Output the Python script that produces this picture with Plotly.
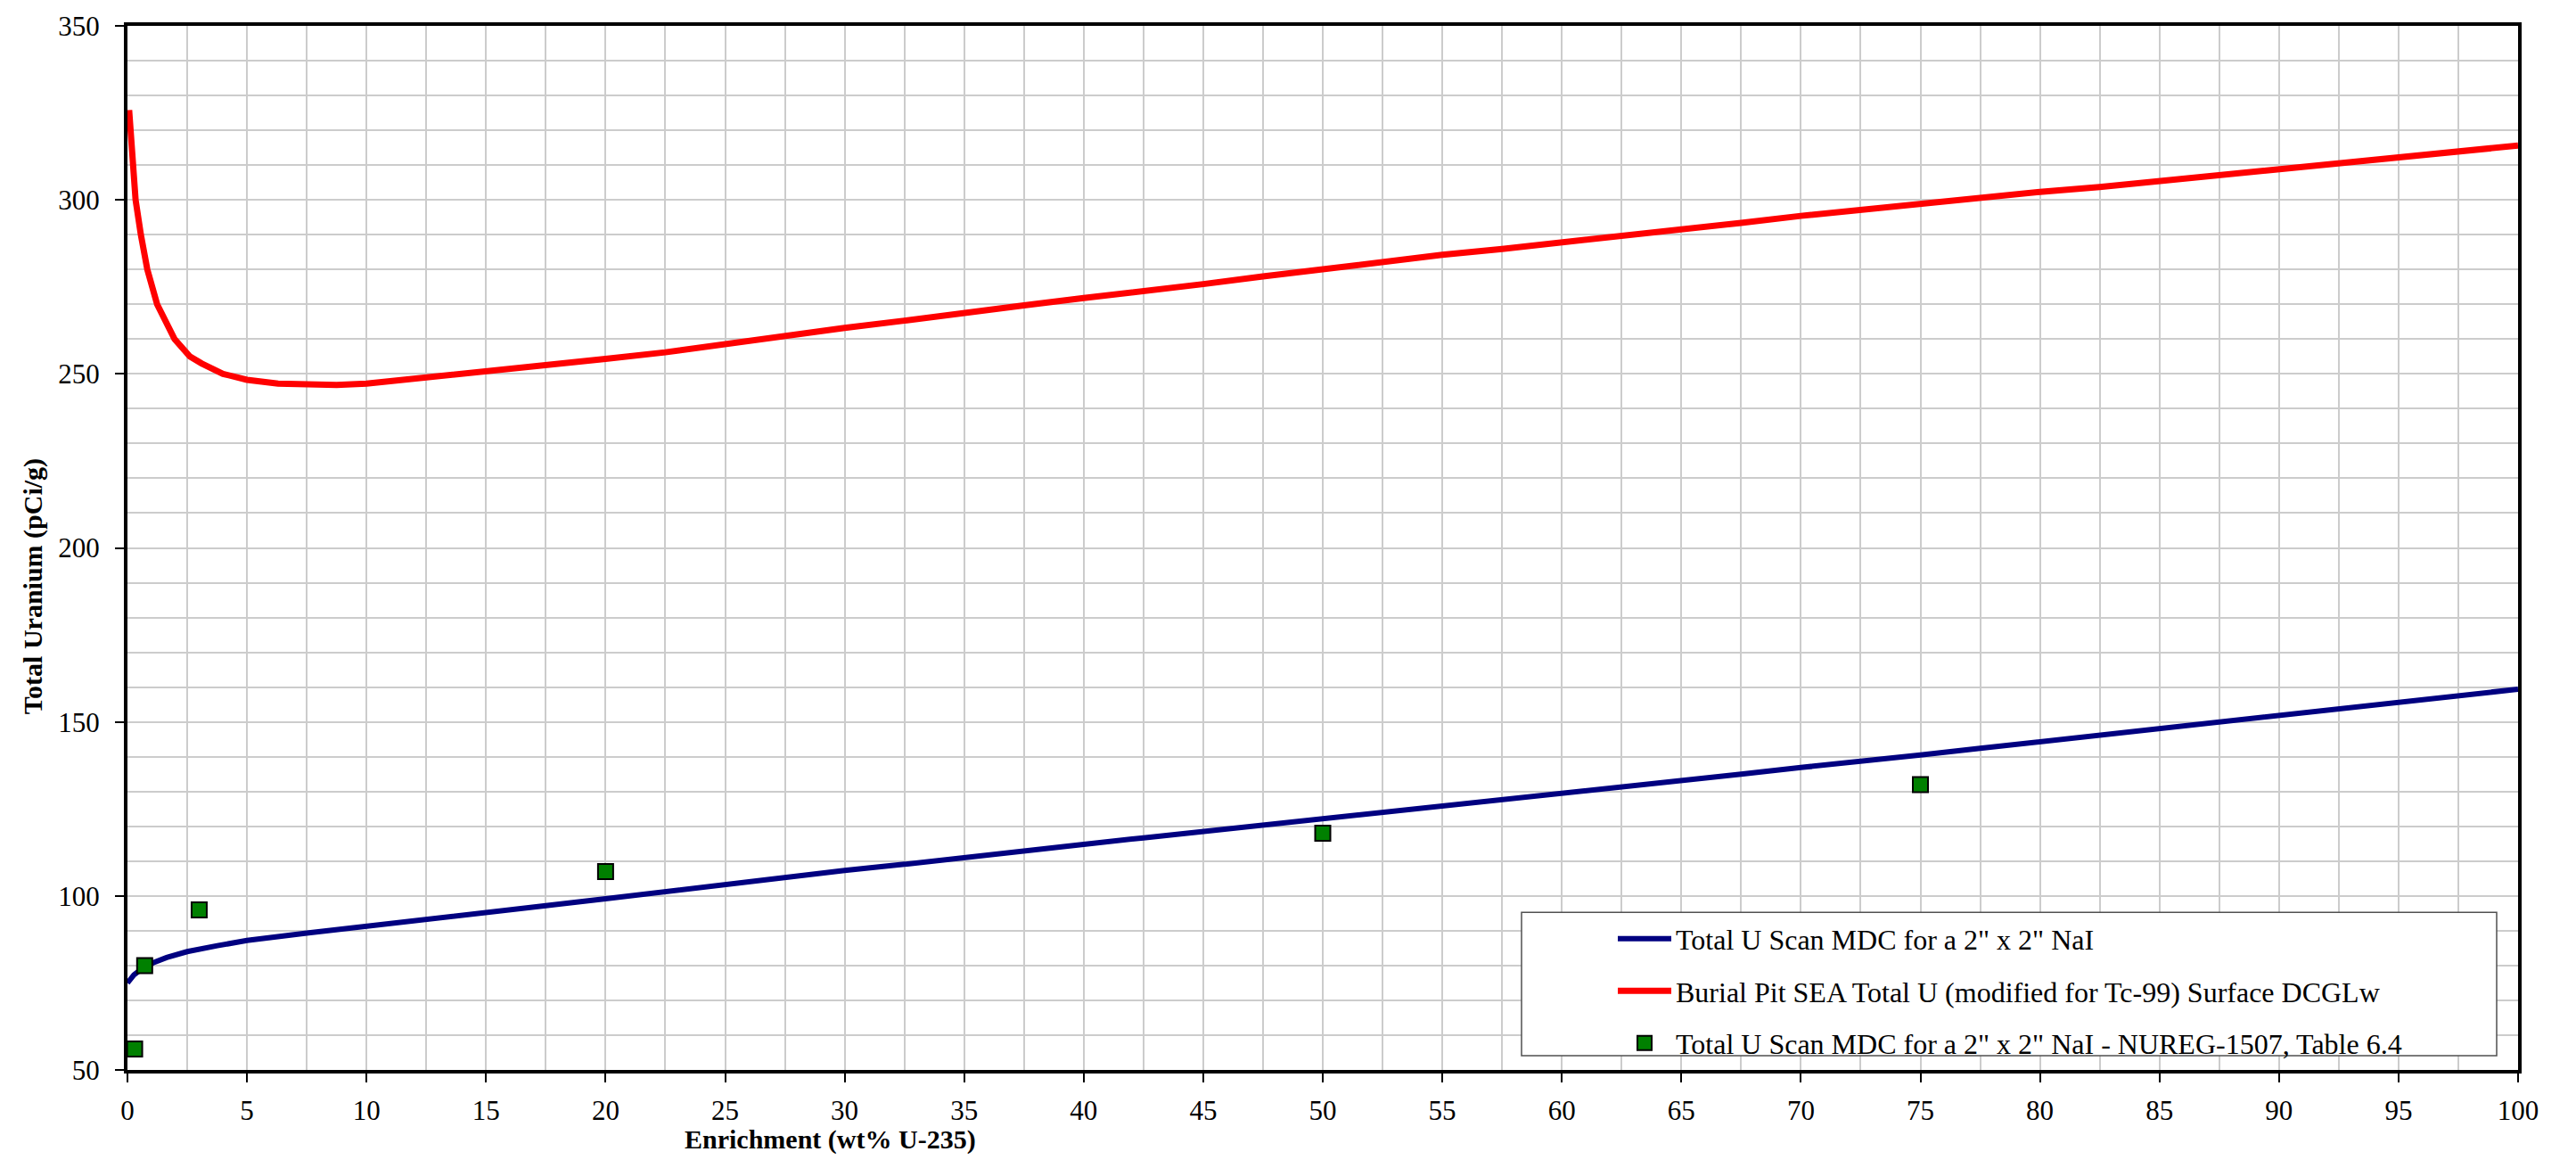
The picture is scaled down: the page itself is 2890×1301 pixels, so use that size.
import plotly.graph_objects as go

# ---- data ----
red_x = [0.07, 0.21, 0.34, 0.56, 0.83, 1.24, 1.97, 2.61, 3.1, 4.0, 5, 6.3, 7.5, 8.75, 10,
         12.5, 15, 17.5, 20, 22.5, 25, 27.5, 30, 32.5, 35, 37.5, 40, 42.5, 45, 47.5, 50,
         52.5, 55, 57.5, 60, 62.5, 65, 67.5, 70, 72.5, 75, 77.5, 80, 82.5, 85, 87.5, 90,
         92.5, 95, 97.5, 100]
red_y = [325.8, 310, 300, 290, 280, 270, 260, 255, 253, 250, 248.3, 247.2, 246.8, 246.8, 247.2,
         248.9, 250.6, 252.6, 254.3, 256.2, 258.6, 260.8, 263.2, 265.3, 267.7, 269.7, 271.8, 273.7,
         275.8, 278.0, 280.2, 282.1, 284.2, 285.9, 287.7, 289.7, 291.5, 293.4, 295.4, 297.2, 298.9,
         300.6, 302.3, 303.7, 305.4, 306.9, 308.5, 310.5, 312.0, 314.0, 315.6]

blue_x = [0, 0.27, 0.65, 1.08, 1.64, 2.5, 3.76, 5, 7.5, 10, 12.5, 15, 17.5, 20, 22.5, 25, 27.5,
          30, 32.5, 35, 37.5, 40, 42.5, 45, 47.5, 50, 52.5, 55, 57.5, 60, 62.5, 65, 67.5, 70,
          72.5, 75, 77.5, 80, 82.5, 85, 87.5, 90, 92.5, 95, 97.5, 100]
blue_y = [75.0, 77.3, 79.3, 80.8, 82.3, 84.0, 85.7, 87.2, 89.3, 91.2, 93.1, 95.1, 97.2, 99.2,
          101.3, 103.3, 105.2, 107.3, 109.1, 111.1, 113.0, 114.8, 116.7, 118.5, 120.4, 122.2,
          123.9, 125.8, 127.6, 129.5, 131.4, 133.1, 135.0, 136.9, 138.6, 140.5, 142.4, 144.3,
          146.1, 148.0, 149.8, 151.9, 153.8, 155.4, 157.6, 159.4]

nureg_x = [0.3, 0.72, 3, 20, 50, 75]
nureg_y = [56, 80, 96, 107, 118, 132]

names = [
    'Total U Scan MDC for a 2" x 2" NaI',
    'Burial Pit SEA Total U (modified for Tc-99) Surface DCGLw',
    'Total U Scan MDC for a 2" x 2" NaI - NUREG-1507, Table 6.4',
]

FONT = "Liberation Serif"

fig = go.Figure()
fig.add_trace(go.Scatter(x=blue_x, y=blue_y, mode="lines", name=names[0], legendgroup="a",
                         line=dict(color="#000080", width=6)))
fig.add_trace(go.Scatter(x=red_x, y=red_y, mode="lines", name=names[1], legendgroup="b",
                         line=dict(color="#FF0000", width=7)))
fig.add_trace(go.Scatter(x=nureg_x, y=nureg_y, mode="markers", name=names[2], legendgroup="c",
                         cliponaxis=False,
                         marker=dict(symbol="square", size=17, color="#008000",
                                     line=dict(color="#000000", width=2))))

L, R, T, B = 143, 2825, 20, 1200
W, H = 2890, 1301
pw, ph = R - L, B - T

def px(xpix):
    return (xpix - L) / pw

def py(ypix):
    return (B - ypix) / ph

grid = "#cccccc"
fig.update_layout(
    width=W, height=H,
    margin=dict(l=L, r=W - R, t=T, b=H - B),
    paper_bgcolor="white", plot_bgcolor="white",
    font=dict(family=FONT, size=28, color="black"),
    showlegend=True,
    legend=dict(x=px(1810), y=py(1024), xanchor="left", yanchor="top",
                bgcolor="rgba(0,0,0,0)", borderwidth=0,
                font=dict(family=FONT, size=32, color="black"),
                tracegroupgap=14, itemwidth=60),
    xaxis=dict(range=[0, 100], dtick=5, tick0=0, showgrid=True, gridcolor=grid, gridwidth=1.5,
               minor=dict(dtick=2.5, showgrid=True, gridcolor=grid, gridwidth=1.5),
               showline=True, linecolor="black", linewidth=4, mirror=True,
               ticks="outside", ticklen=10, tickwidth=1.5, tickcolor="black",
               ticklabelstandoff=5, zeroline=False,
               tickfont=dict(family=FONT, size=31, color="black")),
    yaxis=dict(range=[50, 350], dtick=50, tick0=50, showgrid=True, gridcolor=grid, gridwidth=1.5,
               minor=dict(dtick=10, showgrid=True, gridcolor=grid, gridwidth=1.5),
               showline=True, linecolor="black", linewidth=4, mirror=True,
               ticks="outside", ticklen=10, tickwidth=1.5, tickcolor="black",
               ticklabelstandoff=11, zeroline=False,
               tickfont=dict(family=FONT, size=31, color="black")),
    shapes=[dict(type="rect", xref="paper", yref="paper", layer="above",
                 x0=px(1707), x1=px(2801), y0=py(1184), y1=py(1022),
                 fillcolor="white", line=dict(color="#505050", width=1.5))],
    annotations=[
        dict(text="<b>Enrichment (wt% U-235)</b>", xref="paper", yref="paper",
             x=px(931), y=py(1279), xanchor="center", yanchor="middle", showarrow=False,
             font=dict(family=FONT, size=30, color="black")),
        dict(text="<b>Total Uranium (pCi/g)</b>", xref="paper", yref="paper",
             x=px(37), y=py(654), xanchor="center", yanchor="middle", showarrow=False,
             textangle=-90, font=dict(family=FONT, size=30, color="black")),
    ],
)

fig.write_html("out.html")
